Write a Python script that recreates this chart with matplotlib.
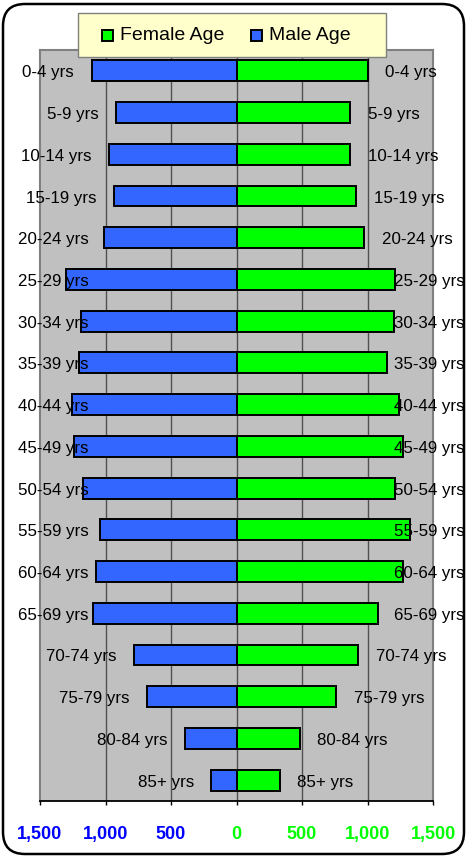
import matplotlib
matplotlib.use("Agg")
import matplotlib.pyplot as plt
from matplotlib.patches import FancyBboxPatch, Rectangle

plt.rcParams['font.family'] = ['Liberation Sans', 'DejaVu Sans']

# age groups, top to bottom
ages = ['0-4 yrs', '5-9 yrs', '10-14 yrs', '15-19 yrs', '20-24 yrs', '25-29 yrs',
        '30-34 yrs', '35-39 yrs', '40-44 yrs', '45-49 yrs', '50-54 yrs', '55-59 yrs',
        '60-64 yrs', '65-69 yrs', '70-74 yrs', '75-79 yrs', '80-84 yrs', '85+ yrs']
male = [1106, 920, 976, 938, 1012, 1301, 1186, 1201, 1259, 1242, 1168, 1043,
        1073, 1094, 783, 681, 392, 191]
female = [1000, 867, 867, 913, 975, 1212, 1204, 1148, 1242, 1268, 1212, 1324,
          1273, 1077, 931, 763, 482, 332]
ticks = [-1500, -1000, -500, 0, 500, 1000, 1500]

W, H = 467, 857
blue = '#3366FF'
green = '#00FF00'

fig = plt.figure(figsize=(W / 100, H / 100), dpi=100)
ax = fig.add_axes([40 / W, (H - 801) / H, (433 - 40) / W, (801 - 50) / H])
ax.set_facecolor('#C0C0C0')

pos = list(range(len(ages)))
ax.barh(pos, [-m for m in male], height=0.5, color=blue, edgecolor='black', linewidth=1.4, zorder=3)
ax.barh(pos, female, height=0.5, color=green, edgecolor='black', linewidth=1.4, zorder=3)

ax.set_xlim(-1500, 1500)
ax.set_ylim(len(ages) - 0.5, -0.5)
ax.set_yticks([])
ax.set_xticks(ticks)
ax.set_xticklabels([f"{abs(t):,}" for t in ticks], fontsize=13, fontweight='bold')
for lab, t in zip(ax.get_xticklabels(), ticks):
    lab.set_color('#0000FF' if t < 0 else green)
ax.tick_params(axis='x', length=3, width=1, pad=15, color='black')
for t in ticks[1:-1]:
    ax.axvline(t, color='#505050', linewidth=1, zorder=1)
for s in ['left', 'right', 'top']:
    ax.spines[s].set_color('#808080')
    ax.spines[s].set_linewidth(1.5)
ax.spines['bottom'].set_color('black')
ax.spines['bottom'].set_linewidth(1.3)

# category labels at both bar ends
fig.canvas.draw()
r = fig.canvas.get_renderer()
gap = 17.5
for i, a in enumerate(ages):
    xl, yc = ax.transData.transform((-male[i], i))
    xr, _ = ax.transData.transform((female[i], i))
    yb = (yc - 6.5) / H
    t = fig.text((xl - gap) / W, yb, a, ha='right', va='baseline', fontsize=12.2, color='black')
    w = t.get_window_extent(r).width
    if xl - gap - w < 18:
        t.set_x(18 / W)
        t.set_ha('left')
    t = fig.text((xr + gap) / W, yb, a, ha='left', va='baseline', fontsize=12.2, color='black')
    w = t.get_window_extent(r).width
    if xr + gap + w > 465:
        t.set_x(465 / W)
        t.set_ha('right')

# legend box
fig.add_artist(Rectangle((78 / W, (H - 57) / H), (386 - 78) / W, 44 / H,
                         transform=fig.transFigure, facecolor='#FFFFCC',
                         edgecolor='#808080', linewidth=1, zorder=5))
for x0, c, name in [(102, green, 'Female Age'), (251, blue, 'Male Age')]:
    fig.add_artist(Rectangle((x0 / W, (H - 41) / H), 11 / W, 11 / H,
                             transform=fig.transFigure, facecolor=c,
                             edgecolor='black', linewidth=1.4, zorder=6))
    fig.text((x0 + 18) / W, (H - 35) / H, name, ha='left', va='center',
             fontsize=14, zorder=7)

# rounded outer border
fig.add_artist(FancyBboxPatch((0.03, 0.03), 4.61, 8.5,
                              boxstyle='round,pad=0,rounding_size=0.22',
                              transform=fig.dpi_scale_trans, facecolor='none',
                              edgecolor='black', linewidth=1.8, zorder=8))

fig.savefig('out.png', dpi=100)
